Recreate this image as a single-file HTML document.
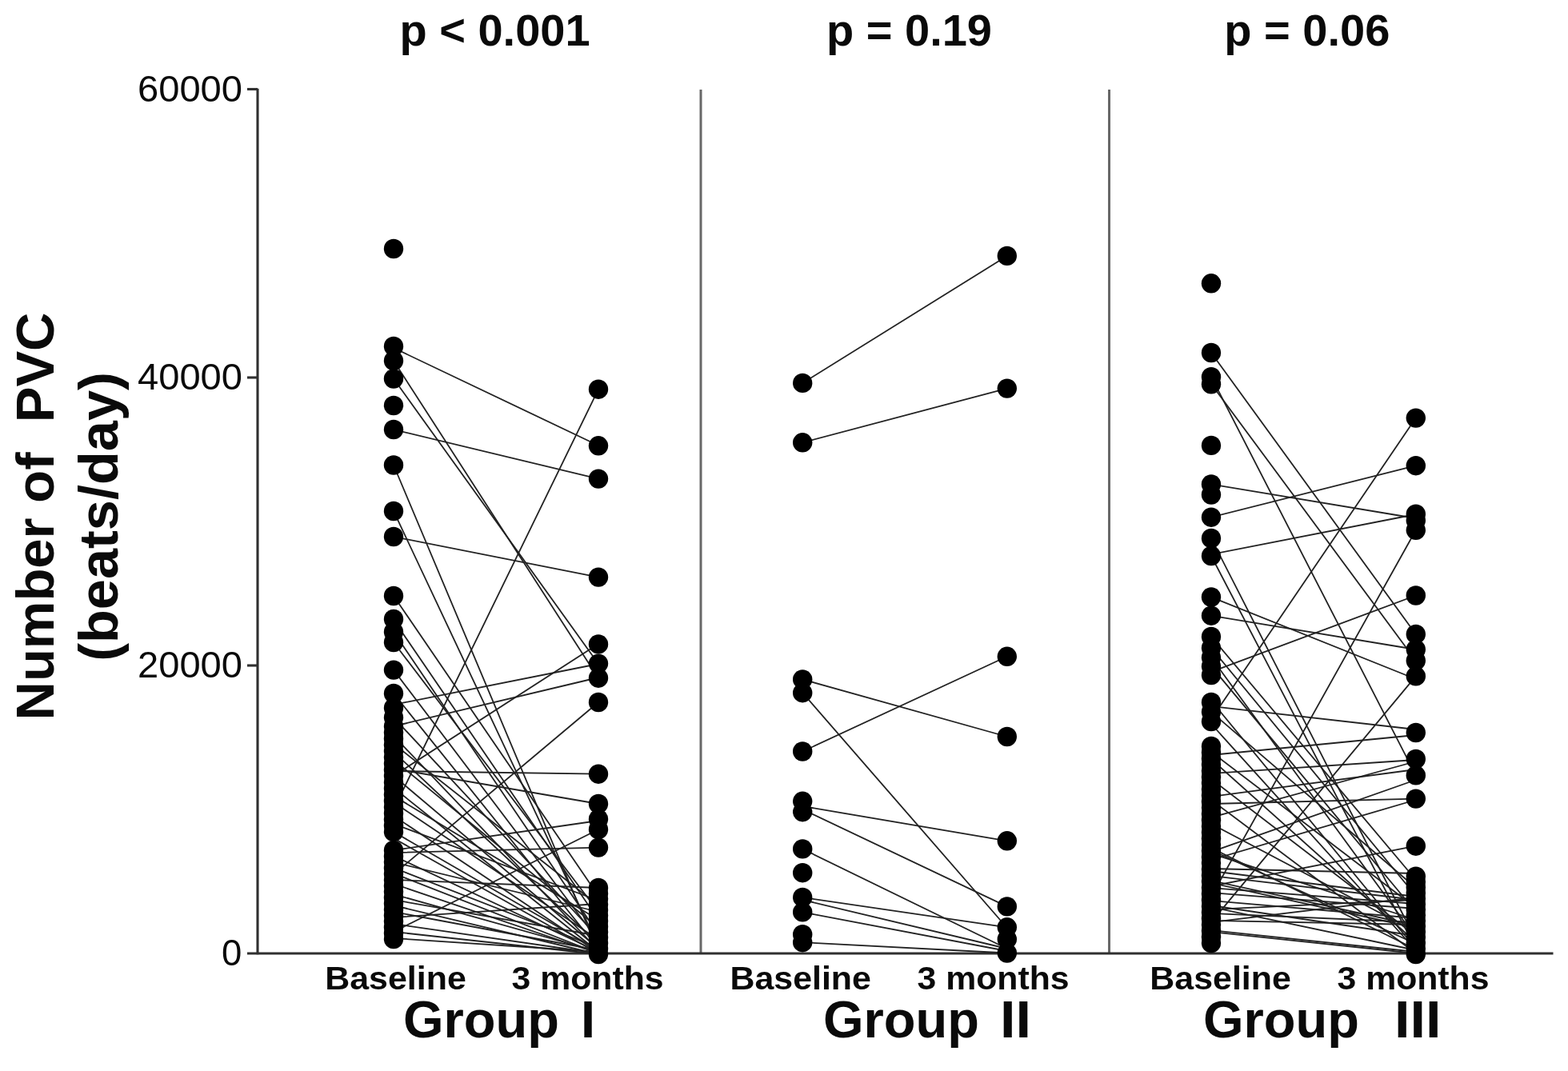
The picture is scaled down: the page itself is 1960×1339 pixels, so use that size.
<!DOCTYPE html>
<html lang="en"><head><meta charset="utf-8"><title>Number of PVC by group</title>
<style>html,body{margin:0;padding:0;background:#fff}body{width:1960px;height:1339px;overflow:hidden}svg{display:block}</style>
</head><body>
<svg width="1960" height="1339" viewBox="0 0 1960 1339">
<rect width="1960" height="1339" fill="#fff"/>
<g stroke="#686868" stroke-width="3"><line x1="876" y1="112" x2="876" y2="1192"/><line x1="1386.5" y1="112" x2="1386.5" y2="1192"/></g>
<g stroke="#303030" stroke-width="3.1" fill="none"><line x1="322" y1="110.7" x2="322" y2="1193.3"/><line x1="309" y1="1192" x2="1941.5" y2="1192"/><line x1="309" y1="111.5" x2="322" y2="111.5"/><line x1="309" y1="472" x2="322" y2="472"/><line x1="309" y1="832" x2="322" y2="832"/></g>
<g font-family="'Liberation Sans', Arial, sans-serif" font-size="45.5" fill="#0a0a0a" text-anchor="end" lengthAdjust="spacingAndGlyphs"><text x="303" y="127" textLength="131" lengthAdjust="spacingAndGlyphs">60000</text><text x="303" y="487" textLength="131" lengthAdjust="spacingAndGlyphs">40000</text><text x="303" y="847" textLength="131" lengthAdjust="spacingAndGlyphs">20000</text><text x="302.3" y="1207">0</text></g>
<g font-family="'Liberation Sans', Arial, sans-serif" font-weight="bold" fill="#0a0a0a" font-size="56" text-anchor="middle"><text x="618.5" y="57">p &lt; 0.001</text><text x="1136.5" y="57">p = 0.19</text><text x="1633.8" y="57">p = 0.06</text></g>
<g font-family="'Liberation Sans', Arial, sans-serif" font-weight="bold" fill="#0a0a0a" font-size="41.5" text-anchor="middle"><text x="494.5" y="1236.7" textLength="176.5" lengthAdjust="spacingAndGlyphs">Baseline</text><text x="734.6" y="1236.7" textLength="190" lengthAdjust="spacingAndGlyphs">3 months</text><text x="1000.7" y="1236.7" textLength="176.5" lengthAdjust="spacingAndGlyphs">Baseline</text><text x="1241.6" y="1236.7" textLength="190" lengthAdjust="spacingAndGlyphs">3 months</text><text x="1525.6" y="1236.7" textLength="176.5" lengthAdjust="spacingAndGlyphs">Baseline</text><text x="1766.5" y="1236.7" textLength="190" lengthAdjust="spacingAndGlyphs">3 months</text></g>
<g font-family="'Liberation Sans', Arial, sans-serif" font-weight="bold" fill="#0a0a0a" font-size="65"><text x="504" y="1297">Group</text><text x="726" y="1297">I</text><text x="1029" y="1297">Group</text><text x="1250" y="1297" textLength="39" lengthAdjust="spacingAndGlyphs">II</text><text x="1504" y="1297">Group</text><text x="1743" y="1297" textLength="58.5" lengthAdjust="spacingAndGlyphs">III</text></g>
<g font-family="'Liberation Sans', Arial, sans-serif" font-weight="bold" fill="#0a0a0a" text-anchor="middle"><text font-size="67" transform="translate(67.2,645.5) rotate(-90)" xml:space="preserve" style="white-space:pre">Number of  PVC</text><text font-size="68.5" transform="translate(146.7,646) rotate(-90)">(beats/day)</text></g>
<g stroke="#222" stroke-width="1.8" stroke-linecap="round"><line x1="492.0" y1="435" x2="748.0" y2="557"/><line x1="492.0" y1="451" x2="748.0" y2="848"/><line x1="492.0" y1="473.5" x2="748.0" y2="830"/><line x1="492.0" y1="537" x2="748.0" y2="598.6"/><line x1="492.0" y1="581.5" x2="748.0" y2="1190"/><line x1="492.0" y1="639" x2="748.0" y2="1183"/><line x1="492.0" y1="671" x2="748.0" y2="721.6"/><line x1="492.0" y1="745" x2="748.0" y2="1120"/><line x1="492.0" y1="775" x2="748.0" y2="1150"/><line x1="492.0" y1="790" x2="748.0" y2="1168"/><line x1="492.0" y1="803" x2="748.0" y2="1140"/><line x1="492.0" y1="837.6" x2="748.0" y2="1176"/><line x1="492.0" y1="867" x2="748.0" y2="1186"/><line x1="492.0" y1="881" x2="748.0" y2="830"/><line x1="492.0" y1="897" x2="748.0" y2="1172"/><line x1="492.0" y1="908" x2="748.0" y2="847"/><line x1="492.0" y1="920" x2="748.0" y2="1188"/><line x1="492.0" y1="930" x2="748.0" y2="1132"/><line x1="492.0" y1="940" x2="748.0" y2="1180"/><line x1="492.0" y1="950" x2="748.0" y2="1160"/><line x1="492.0" y1="961" x2="748.0" y2="1005"/><line x1="492.0" y1="964" x2="748.0" y2="967.7"/><line x1="492.0" y1="970" x2="748.0" y2="1186"/><line x1="492.0" y1="970" x2="748.0" y2="805"/><line x1="492.0" y1="985" x2="748.0" y2="1190"/><line x1="492.0" y1="995" x2="748.0" y2="1150"/><line x1="492.0" y1="1012" x2="748.0" y2="486.7"/><line x1="492.0" y1="1003" x2="748.0" y2="1175"/><line x1="492.0" y1="1020" x2="748.0" y2="1191"/><line x1="492.0" y1="1030" x2="748.0" y2="1126"/><line x1="492.0" y1="1040" x2="748.0" y2="1188"/><line x1="492.0" y1="1048" x2="748.0" y2="1192"/><line x1="492.0" y1="1063" x2="748.0" y2="1026"/><line x1="492.0" y1="1066" x2="748.0" y2="1059.6"/><line x1="492.0" y1="1070" x2="748.0" y2="1190"/><line x1="492.0" y1="1078" x2="748.0" y2="1140"/><line x1="492.0" y1="1085" x2="748.0" y2="1185"/><line x1="492.0" y1="1092" x2="748.0" y2="1192"/><line x1="492.0" y1="1100" x2="748.0" y2="1110"/><line x1="492.0" y1="1105" x2="748.0" y2="1192"/><line x1="492.0" y1="1093" x2="748.0" y2="878"/><line x1="492.0" y1="1118" x2="748.0" y2="1190"/><line x1="492.0" y1="1125" x2="748.0" y2="1170"/><line x1="492.0" y1="1132" x2="748.0" y2="1193"/><line x1="492.0" y1="1140" x2="748.0" y2="1188"/><line x1="492.0" y1="1147" x2="748.0" y2="1130"/><line x1="492.0" y1="1155" x2="748.0" y2="1192"/><line x1="492.0" y1="1165" x2="748.0" y2="1037"/><line x1="492.0" y1="1165" x2="748.0" y2="1193"/><line x1="492.0" y1="1173" x2="748.0" y2="1190"/></g><g fill="#000"><circle cx="492.0" cy="311" r="12.2"/><circle cx="492.0" cy="433" r="12.2"/><circle cx="492.0" cy="451" r="12.2"/><circle cx="492.0" cy="473.5" r="12.2"/><circle cx="492.0" cy="507" r="12.2"/><circle cx="492.0" cy="537" r="12.2"/><circle cx="492.0" cy="581.5" r="12.2"/><circle cx="492.0" cy="639" r="12.2"/><circle cx="492.0" cy="671" r="12.2"/><circle cx="492.0" cy="745" r="12.2"/><circle cx="492.0" cy="774" r="12.2"/><circle cx="492.0" cy="790" r="12.2"/><circle cx="492.0" cy="803" r="12.2"/><circle cx="492.0" cy="837.6" r="12.2"/><circle cx="492.0" cy="867" r="12.2"/><circle cx="492.0" cy="885" r="12.2"/><circle cx="492.0" cy="897" r="12.2"/><circle cx="492.0" cy="908.0" r="12.2"/><circle cx="492.0" cy="915.8" r="12.2"/><circle cx="492.0" cy="923.5" r="12.2"/><circle cx="492.0" cy="931.3" r="12.2"/><circle cx="492.0" cy="939.1" r="12.2"/><circle cx="492.0" cy="946.8" r="12.2"/><circle cx="492.0" cy="954.6" r="12.2"/><circle cx="492.0" cy="962.4" r="12.2"/><circle cx="492.0" cy="970.1" r="12.2"/><circle cx="492.0" cy="977.9" r="12.2"/><circle cx="492.0" cy="985.6" r="12.2"/><circle cx="492.0" cy="993.4" r="12.2"/><circle cx="492.0" cy="1001.2" r="12.2"/><circle cx="492.0" cy="1008.9" r="12.2"/><circle cx="492.0" cy="1016.7" r="12.2"/><circle cx="492.0" cy="1024.5" r="12.2"/><circle cx="492.0" cy="1032.2" r="12.2"/><circle cx="492.0" cy="1040.0" r="12.2"/><circle cx="492.0" cy="1063.0" r="12.2"/><circle cx="492.0" cy="1070.4" r="12.2"/><circle cx="492.0" cy="1077.8" r="12.2"/><circle cx="492.0" cy="1085.2" r="12.2"/><circle cx="492.0" cy="1092.6" r="12.2"/><circle cx="492.0" cy="1100.0" r="12.2"/><circle cx="492.0" cy="1107.4" r="12.2"/><circle cx="492.0" cy="1114.8" r="12.2"/><circle cx="492.0" cy="1122.2" r="12.2"/><circle cx="492.0" cy="1129.6" r="12.2"/><circle cx="492.0" cy="1137.0" r="12.2"/><circle cx="492.0" cy="1144.4" r="12.2"/><circle cx="492.0" cy="1151.8" r="12.2"/><circle cx="492.0" cy="1159.2" r="12.2"/><circle cx="492.0" cy="1166.6" r="12.2"/><circle cx="492.0" cy="1174.0" r="12.2"/><circle cx="748.0" cy="486.7" r="12.2"/><circle cx="748.0" cy="557.3" r="12.2"/><circle cx="748.0" cy="598.6" r="12.2"/><circle cx="748.0" cy="721.6" r="12.2"/><circle cx="748.0" cy="805.4" r="12.2"/><circle cx="748.0" cy="829.6" r="12.2"/><circle cx="748.0" cy="847.7" r="12.2"/><circle cx="748.0" cy="878" r="12.2"/><circle cx="748.0" cy="967.7" r="12.2"/><circle cx="748.0" cy="1005" r="12.2"/><circle cx="748.0" cy="1024" r="12.2"/><circle cx="748.0" cy="1037" r="12.2"/><circle cx="748.0" cy="1059.6" r="12.2"/><circle cx="748.0" cy="1110.0" r="12.2"/><circle cx="748.0" cy="1116.9" r="12.2"/><circle cx="748.0" cy="1123.8" r="12.2"/><circle cx="748.0" cy="1130.8" r="12.2"/><circle cx="748.0" cy="1137.7" r="12.2"/><circle cx="748.0" cy="1144.6" r="12.2"/><circle cx="748.0" cy="1151.5" r="12.2"/><circle cx="748.0" cy="1158.4" r="12.2"/><circle cx="748.0" cy="1165.3" r="12.2"/><circle cx="748.0" cy="1172.2" r="12.2"/><circle cx="748.0" cy="1179.2" r="12.2"/><circle cx="748.0" cy="1186.1" r="12.2"/><circle cx="748.0" cy="1193.0" r="12.2"/></g>
<g stroke="#222" stroke-width="1.8" stroke-linecap="round"><line x1="1003.2" y1="478.9" x2="1258.8" y2="319.9"/><line x1="1003.2" y1="553.3" x2="1258.8" y2="485.6"/><line x1="1003.2" y1="849.4" x2="1258.8" y2="921"/><line x1="1003.2" y1="939.5" x2="1258.8" y2="820.8"/><line x1="1003.2" y1="866.2" x2="1258.8" y2="1160"/><line x1="1003.2" y1="1008" x2="1258.8" y2="1051.3"/><line x1="1003.2" y1="1012" x2="1258.8" y2="1133.4"/><line x1="1003.2" y1="1061.4" x2="1258.8" y2="1186"/><line x1="1003.2" y1="1122" x2="1258.8" y2="1159.3"/><line x1="1003.2" y1="1125" x2="1258.8" y2="1186"/><line x1="1003.2" y1="1140.4" x2="1258.8" y2="1189"/><line x1="1003.2" y1="1178.2" x2="1258.8" y2="1191.5"/></g><g fill="#000"><circle cx="1003.2" cy="478.9" r="12.2"/><circle cx="1003.2" cy="553.3" r="12.2"/><circle cx="1003.2" cy="849.4" r="12.2"/><circle cx="1003.2" cy="866.2" r="12.2"/><circle cx="1003.2" cy="939.5" r="12.2"/><circle cx="1003.2" cy="1001.8" r="12.2"/><circle cx="1003.2" cy="1015.2" r="12.2"/><circle cx="1003.2" cy="1061.4" r="12.2"/><circle cx="1003.2" cy="1091.2" r="12.2"/><circle cx="1003.2" cy="1121.9" r="12.2"/><circle cx="1003.2" cy="1140.4" r="12.2"/><circle cx="1003.2" cy="1168.2" r="12.2"/><circle cx="1003.2" cy="1178.2" r="12.2"/><circle cx="1258.8" cy="319.9" r="12.2"/><circle cx="1258.8" cy="485.6" r="12.2"/><circle cx="1258.8" cy="820.8" r="12.2"/><circle cx="1258.8" cy="921" r="12.2"/><circle cx="1258.8" cy="1051.3" r="12.2"/><circle cx="1258.8" cy="1133.4" r="12.2"/><circle cx="1258.8" cy="1159.3" r="12.2"/><circle cx="1258.8" cy="1174.2" r="12.2"/><circle cx="1258.8" cy="1191.5" r="12.2"/></g>
<g stroke="#222" stroke-width="1.8" stroke-linecap="round"><line x1="1514.0" y1="441" x2="1769.8" y2="793"/><line x1="1514.0" y1="480" x2="1769.8" y2="826"/><line x1="1514.0" y1="471" x2="1769.8" y2="969.4"/><line x1="1514.0" y1="605.4" x2="1769.8" y2="648"/><line x1="1514.0" y1="646.7" x2="1769.8" y2="582.2"/><line x1="1514.0" y1="693" x2="1769.8" y2="643"/><line x1="1514.0" y1="673" x2="1769.8" y2="1175"/><line x1="1514.0" y1="695" x2="1769.8" y2="1186"/><line x1="1514.0" y1="746.5" x2="1769.8" y2="849"/><line x1="1514.0" y1="769.7" x2="1769.8" y2="812"/><line x1="1514.0" y1="840" x2="1769.8" y2="744.5"/><line x1="1514.0" y1="899" x2="1769.8" y2="522.6"/><line x1="1514.0" y1="1121" x2="1769.8" y2="662.8"/><line x1="1514.0" y1="1153" x2="1769.8" y2="845.4"/><line x1="1514.0" y1="883" x2="1769.8" y2="912"/><line x1="1514.0" y1="944" x2="1769.8" y2="919"/><line x1="1514.0" y1="967" x2="1769.8" y2="950"/><line x1="1514.0" y1="996" x2="1769.8" y2="962"/><line x1="1514.0" y1="1005" x2="1769.8" y2="998.6"/><line x1="1514.0" y1="1022" x2="1769.8" y2="952"/><line x1="1514.0" y1="1065" x2="1769.8" y2="975"/><line x1="1514.0" y1="1075" x2="1769.8" y2="1000"/><line x1="1514.0" y1="1108" x2="1769.8" y2="1057.7"/><line x1="1514.0" y1="796" x2="1769.8" y2="1100"/><line x1="1514.0" y1="810" x2="1769.8" y2="1120"/><line x1="1514.0" y1="876" x2="1769.8" y2="1186"/><line x1="1514.0" y1="905" x2="1769.8" y2="1188"/><line x1="1514.0" y1="974" x2="1769.8" y2="1170"/><line x1="1514.0" y1="822" x2="1769.8" y2="1172"/><line x1="1514.0" y1="833" x2="1769.8" y2="1140"/><line x1="1514.0" y1="890" x2="1769.8" y2="1110"/><line x1="1514.0" y1="1060" x2="1769.8" y2="1187"/><line x1="1514.0" y1="1063" x2="1769.8" y2="1180"/><line x1="1514.0" y1="1067" x2="1769.8" y2="1150"/><line x1="1514.0" y1="1086" x2="1769.8" y2="1092"/><line x1="1514.0" y1="1089" x2="1769.8" y2="1121"/><line x1="1514.0" y1="1095" x2="1769.8" y2="1125"/><line x1="1514.0" y1="1101" x2="1769.8" y2="1157"/><line x1="1514.0" y1="1104" x2="1769.8" y2="1160"/><line x1="1514.0" y1="1110" x2="1769.8" y2="1130"/><line x1="1514.0" y1="1116" x2="1769.8" y2="1136"/><line x1="1514.0" y1="1126" x2="1769.8" y2="1148"/><line x1="1514.0" y1="1132" x2="1769.8" y2="1170"/><line x1="1514.0" y1="1134" x2="1769.8" y2="1188"/><line x1="1514.0" y1="1137" x2="1769.8" y2="1125"/><line x1="1514.0" y1="1142" x2="1769.8" y2="1153"/><line x1="1514.0" y1="1151" x2="1769.8" y2="1156"/><line x1="1514.0" y1="1153" x2="1769.8" y2="1122"/><line x1="1514.0" y1="1163" x2="1769.8" y2="1190"/><line x1="1514.0" y1="1165" x2="1769.8" y2="1192"/><line x1="1514.0" y1="949" x2="1769.8" y2="1178"/><line x1="1514.0" y1="1030" x2="1769.8" y2="1165"/><line x1="1514.0" y1="1000" x2="1769.8" y2="1192"/><line x1="1514.0" y1="940" x2="1769.8" y2="1135"/></g><g fill="#000"><circle cx="1514.0" cy="354.3" r="12.2"/><circle cx="1514.0" cy="441" r="12.2"/><circle cx="1514.0" cy="471.2" r="12.2"/><circle cx="1514.0" cy="480.3" r="12.2"/><circle cx="1514.0" cy="556.9" r="12.2"/><circle cx="1514.0" cy="605.4" r="12.2"/><circle cx="1514.0" cy="618.5" r="12.2"/><circle cx="1514.0" cy="646.7" r="12.2"/><circle cx="1514.0" cy="673" r="12.2"/><circle cx="1514.0" cy="695" r="12.2"/><circle cx="1514.0" cy="746.5" r="12.2"/><circle cx="1514.0" cy="769.7" r="12.2"/><circle cx="1514.0" cy="796" r="12.2"/><circle cx="1514.0" cy="810" r="12.2"/><circle cx="1514.0" cy="822" r="12.2"/><circle cx="1514.0" cy="833" r="12.2"/><circle cx="1514.0" cy="844" r="12.2"/><circle cx="1514.0" cy="878" r="12.2"/><circle cx="1514.0" cy="890" r="12.2"/><circle cx="1514.0" cy="902" r="12.2"/><circle cx="1514.0" cy="933.0" r="12.2"/><circle cx="1514.0" cy="940.7" r="12.2"/><circle cx="1514.0" cy="948.4" r="12.2"/><circle cx="1514.0" cy="956.1" r="12.2"/><circle cx="1514.0" cy="963.8" r="12.2"/><circle cx="1514.0" cy="971.4" r="12.2"/><circle cx="1514.0" cy="979.1" r="12.2"/><circle cx="1514.0" cy="986.8" r="12.2"/><circle cx="1514.0" cy="994.5" r="12.2"/><circle cx="1514.0" cy="1002.2" r="12.2"/><circle cx="1514.0" cy="1009.9" r="12.2"/><circle cx="1514.0" cy="1017.6" r="12.2"/><circle cx="1514.0" cy="1025.2" r="12.2"/><circle cx="1514.0" cy="1032.9" r="12.2"/><circle cx="1514.0" cy="1040.6" r="12.2"/><circle cx="1514.0" cy="1048.3" r="12.2"/><circle cx="1514.0" cy="1056.0" r="12.2"/><circle cx="1514.0" cy="1063.7" r="12.2"/><circle cx="1514.0" cy="1071.4" r="12.2"/><circle cx="1514.0" cy="1079.1" r="12.2"/><circle cx="1514.0" cy="1086.8" r="12.2"/><circle cx="1514.0" cy="1094.4" r="12.2"/><circle cx="1514.0" cy="1102.1" r="12.2"/><circle cx="1514.0" cy="1109.8" r="12.2"/><circle cx="1514.0" cy="1117.5" r="12.2"/><circle cx="1514.0" cy="1125.2" r="12.2"/><circle cx="1514.0" cy="1132.9" r="12.2"/><circle cx="1514.0" cy="1140.6" r="12.2"/><circle cx="1514.0" cy="1148.2" r="12.2"/><circle cx="1514.0" cy="1155.9" r="12.2"/><circle cx="1514.0" cy="1163.6" r="12.2"/><circle cx="1514.0" cy="1171.3" r="12.2"/><circle cx="1514.0" cy="1179.0" r="12.2"/><circle cx="1769.8" cy="522.6" r="12.2"/><circle cx="1769.8" cy="582.2" r="12.2"/><circle cx="1769.8" cy="642.7" r="12.2"/><circle cx="1769.8" cy="650.7" r="12.2"/><circle cx="1769.8" cy="662.8" r="12.2"/><circle cx="1769.8" cy="744.5" r="12.2"/><circle cx="1769.8" cy="792.9" r="12.2"/><circle cx="1769.8" cy="812" r="12.2"/><circle cx="1769.8" cy="826" r="12.2"/><circle cx="1769.8" cy="845.4" r="12.2"/><circle cx="1769.8" cy="916" r="12.2"/><circle cx="1769.8" cy="949" r="12.2"/><circle cx="1769.8" cy="969.4" r="12.2"/><circle cx="1769.8" cy="998.6" r="12.2"/><circle cx="1769.8" cy="1057.7" r="12.2"/><circle cx="1769.8" cy="1095.6" r="12.2"/><circle cx="1769.8" cy="1102.6" r="12.2"/><circle cx="1769.8" cy="1109.5" r="12.2"/><circle cx="1769.8" cy="1116.5" r="12.2"/><circle cx="1769.8" cy="1123.4" r="12.2"/><circle cx="1769.8" cy="1130.4" r="12.2"/><circle cx="1769.8" cy="1137.3" r="12.2"/><circle cx="1769.8" cy="1144.3" r="12.2"/><circle cx="1769.8" cy="1151.3" r="12.2"/><circle cx="1769.8" cy="1158.2" r="12.2"/><circle cx="1769.8" cy="1165.2" r="12.2"/><circle cx="1769.8" cy="1172.1" r="12.2"/><circle cx="1769.8" cy="1179.1" r="12.2"/><circle cx="1769.8" cy="1186.0" r="12.2"/><circle cx="1769.8" cy="1193.0" r="12.2"/></g>
</svg>
</body></html>
